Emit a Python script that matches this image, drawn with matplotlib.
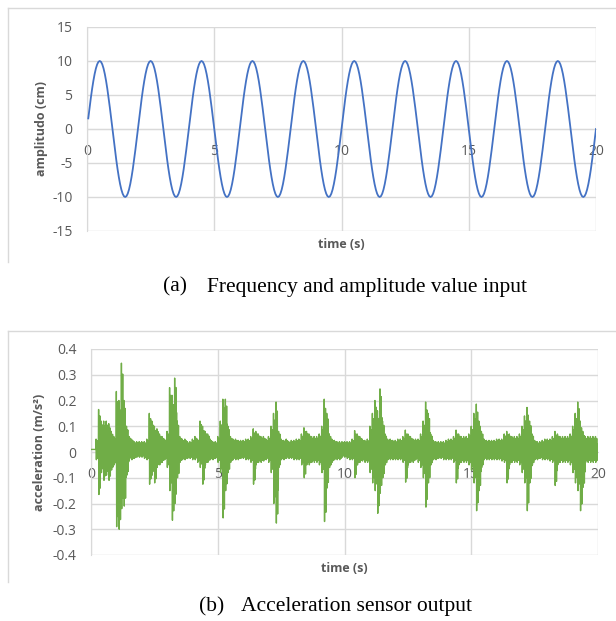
import numpy as np
import matplotlib
matplotlib.use("Agg")
import matplotlib.pyplot as plt
from matplotlib.lines import Line2D

plt.rcParams['axes.unicode_minus'] = False

# (a) input signal: one period of amplitude (cm), sampled every 0.05 s, repeated 10 times
sine_step = 0.05
sine_cycle = [1.56, 3.09, 4.54, 5.88, 7.07, 8.09, 8.91, 9.51, 9.88, 10.0,
              9.88, 9.51, 8.91, 8.09, 7.07, 5.88, 4.54, 3.09, 1.56, 0.0,
              -1.56, -3.09, -4.54, -5.88, -7.07, -8.09, -8.91, -9.51, -9.88, -10.0,
              -9.88, -9.51, -8.91, -8.09, -7.07, -5.88, -4.54, -3.09, -1.56, 0.0]
sine_cycles = 10

# (b) sensor output: upper / lower envelope of acceleration (m/s^2) per 0.1 s bin
acc_step = 0.1
acc_upper = [
    0.01, 0.01, 0.05, 0.165, 0.12, 0.12, 0.12, 0.11, 0.08, 0.06, 0.235, 0.2, 0.345, 0.2, 0.1, 0.06, 0.05, 0.04, 0.04, 0.04,
    0.04, 0.04, 0.05, 0.15, 0.12, 0.1, 0.09, 0.07, 0.06, 0.05, 0.08, 0.25, 0.22, 0.287, 0.12, 0.06, 0.05, 0.05, 0.04, 0.04,
    0.05, 0.06, 0.05, 0.12, 0.1, 0.08, 0.07, 0.05, 0.04, 0.04, 0.06, 0.12, 0.205, 0.205, 0.1, 0.06, 0.05, 0.05, 0.045, 0.045,
    0.045, 0.05, 0.05, 0.06, 0.09, 0.08, 0.07, 0.06, 0.06, 0.05, 0.06, 0.1, 0.15, 0.194, 0.08, 0.05, 0.045, 0.05, 0.04, 0.045,
    0.045, 0.05, 0.05, 0.07, 0.094, 0.08, 0.07, 0.06, 0.06, 0.06, 0.07, 0.1, 0.205, 0.15, 0.07, 0.05, 0.045, 0.04, 0.04, 0.04,
    0.04, 0.04, 0.04, 0.05, 0.083, 0.07, 0.06, 0.05, 0.045, 0.05, 0.1, 0.15, 0.2, 0.16, 0.245, 0.12, 0.07, 0.05, 0.05, 0.045,
    0.045, 0.05, 0.05, 0.06, 0.085, 0.07, 0.06, 0.05, 0.05, 0.05, 0.07, 0.12, 0.194, 0.15, 0.07, 0.045, 0.04, 0.04, 0.04, 0.04,
    0.045, 0.05, 0.05, 0.06, 0.085, 0.07, 0.06, 0.06, 0.06, 0.07, 0.1, 0.15, 0.186, 0.12, 0.08, 0.05, 0.045, 0.045, 0.045, 0.045,
    0.05, 0.05, 0.05, 0.07, 0.08, 0.07, 0.06, 0.06, 0.06, 0.07, 0.1, 0.14, 0.173, 0.12, 0.07, 0.045, 0.04, 0.04, 0.045, 0.05,
    0.05, 0.05, 0.06, 0.08, 0.07, 0.06, 0.06, 0.06, 0.06, 0.07, 0.1, 0.15, 0.194, 0.12, 0.08, 0.06, 0.06, 0.06, 0.06, 0.06,
]
acc_lower = [
    0.01, 0.01, -0.03, -0.165, -0.08, -0.11, -0.09, -0.11, -0.07, -0.05, -0.29, -0.3, -0.22, -0.21, -0.09, -0.03, -0.03, -0.025, -0.02, -0.02,
    -0.02, -0.025, -0.03, -0.125, -0.09, -0.12, -0.06, -0.05, -0.04, -0.03, -0.06, -0.15, -0.265, -0.2, -0.1, -0.04, -0.03, -0.03, -0.025, -0.025,
    -0.03, -0.03, -0.04, -0.06, -0.125, -0.05, -0.04, -0.03, -0.03, -0.025, -0.04, -0.08, -0.256, -0.15, -0.08, -0.04, -0.03, -0.03, -0.03, -0.025,
    -0.025, -0.03, -0.03, -0.04, -0.125, -0.05, -0.04, -0.04, -0.035, -0.03, -0.04, -0.08, -0.2, -0.276, -0.06, -0.03, -0.03, -0.025, -0.025, -0.025,
    -0.03, -0.03, -0.03, -0.05, -0.1, -0.05, -0.05, -0.04, -0.04, -0.04, -0.05, -0.08, -0.27, -0.14, -0.06, -0.04, -0.03, -0.03, -0.03, -0.02,
    -0.02, -0.025, -0.03, -0.03, -0.1, -0.05, -0.04, -0.035, -0.04, -0.04, -0.08, -0.12, -0.15, -0.238, -0.16, -0.1, -0.05, -0.03, -0.03, -0.03,
    -0.03, -0.03, -0.03, -0.04, -0.117, -0.05, -0.04, -0.04, -0.03, -0.04, -0.06, -0.1, -0.214, -0.12, -0.05, -0.03, -0.03, -0.025, -0.025, -0.03,
    -0.03, -0.03, -0.03, -0.04, -0.12, -0.05, -0.04, -0.04, -0.04, -0.05, -0.07, -0.12, -0.228, -0.15, -0.06, -0.03, -0.03, -0.03, -0.03, -0.03,
    -0.03, -0.03, -0.035, -0.04, -0.12, -0.05, -0.04, -0.04, -0.04, -0.05, -0.08, -0.12, -0.228, -0.12, -0.05, -0.03, -0.03, -0.025, -0.03, -0.03,
    -0.03, -0.035, -0.04, -0.13, -0.05, -0.04, -0.04, -0.04, -0.04, -0.05, -0.08, -0.12, -0.15, -0.228, -0.137, -0.04, -0.04, -0.04, -0.04, -0.04,
]

time_ticks = [0, 5, 10, 15, 20]
amp_ticks = [-15, -10, -5, 0, 5, 10, 15]
acc_ticks = [-0.4, -0.3, -0.2, -0.1, 0, 0.1, 0.2, 0.3, 0.4]
acc_tick_labels = ['-0.4', '-0.3', '-0.2', '-0.1', '0', '0.1', '0.2', '0.3', '0.4']

GRID = '#d9d9d9'
TXT = '#595959'
FONT = 'Open Sans'
SERIF = 'Liberation Serif'
W, H = 616, 621

# sub-strokes drawn inside each 0.1 s bin so the envelope reads as a dense trace
stroke_shape = [1.0, 0.55, 0.85, 0.45]


def fx(px):
    return px / W


def fy(py):
    return 1 - py / H


def excel_axes(ax, yticks, ylabels):
    ax.set_xlim(time_ticks[0], time_ticks[-1])
    ax.set_ylim(yticks[0], yticks[-1])
    ax.set_xticks(time_ticks)
    ax.set_xticklabels([str(t) for t in time_ticks])
    ax.set_yticks(yticks)
    ax.set_yticklabels(ylabels)
    ax.grid(True, color=GRID, lw=1.0)
    ax.set_axisbelow(True)
    for s in ['top', 'right']:
        ax.spines[s].set_visible(False)
    ax.spines['left'].set_color(GRID)
    ax.spines['bottom'].set_position(('data', 0))
    ax.spines['bottom'].set_color(GRID)
    ax.tick_params(length=0, labelcolor=TXT, labelsize=10)
    ax.tick_params(axis='x', pad=10.5)
    ax.tick_params(axis='y', pad=10.5)
    for lab in ax.get_xticklabels() + ax.get_yticklabels():
        lab.set_family(FONT)


fig = plt.figure(figsize=(W / 100, H / 100), dpi=100)

# chart frames (left and top edges only, as cropped in the source)
for top, bottom in [(7.5, 262), (330.5, 582)]:
    fig.add_artist(Line2D([fx(7.5), fx(7.5)], [fy(top), fy(bottom)], transform=fig.transFigure, color=GRID, lw=1))
    fig.add_artist(Line2D([fx(7.5), 1], [fy(top), fy(top)], transform=fig.transFigure, color=GRID, lw=1))

# (a) amplitude input
ax1 = fig.add_axes([fx(87), fy(231), fx(596 - 87), (231 - 27) / H])
amp = np.tile(sine_cycle, sine_cycles)
t_amp = sine_step * np.arange(1, len(amp) + 1)
ax1.plot(t_amp, amp, color='#4472C4', lw=1.3, zorder=3)
excel_axes(ax1, amp_ticks, [str(v) for v in amp_ticks])
fig.text(fx(41), fy(129), 'amplitudo (cm)', rotation=90, ha='center', va='center',
         color=TXT, fontsize=9, fontweight='bold', family=FONT)
fig.text(fx(341.5), fy(244), 'time (s)', ha='center', va='center',
         color=TXT, fontsize=9, fontweight='bold', family=FONT)

# (b) acceleration output
ax2 = fig.add_axes([fx(91), fy(555), fx(598 - 91), (555 - 349) / H])
t_acc, v_acc = [], []
n_sub = len(stroke_shape)
for i, (u, l) in enumerate(zip(acc_upper, acc_lower)):
    mid = (u + l) / 2
    for j, f in enumerate(stroke_shape):
        t0 = acc_step * (i + j / n_sub)
        t_acc += [t0, t0 + acc_step / (2 * n_sub)]
        v_acc += [mid + (u - mid) * f, mid + (l - mid) * f]
t_acc.append(time_ticks[-1])
v_acc.append(v_acc[-1])
ax2.plot(t_acc, v_acc, color='#70AD47', lw=1.0, zorder=3)
excel_axes(ax2, acc_ticks, acc_tick_labels)
fig.text(fx(40), fy(452), 'acceleration (m/s²)', rotation=90, ha='center', va='center',
         color=TXT, fontsize=9, fontweight='bold', family=FONT)
fig.text(fx(344.5), fy(568), 'time (s)', ha='center', va='center',
         color=TXT, fontsize=9, fontweight='bold', family=FONT)

# captions
fig.text(fx(163), fy(287), '(a)', ha='left', va='center', fontsize=15.5, family=SERIF)
fig.text(fx(207), fy(287), 'Frequency and amplitude value input', ha='left', va='center', fontsize=15.5, family=SERIF)
fig.text(fx(199), fy(607), '(b)', ha='left', va='center', fontsize=15.5, family=SERIF)
fig.text(fx(241), fy(607), 'Acceleration sensor output', ha='left', va='center', fontsize=15.5, family=SERIF)

fig.savefig('out.png', dpi=100)
